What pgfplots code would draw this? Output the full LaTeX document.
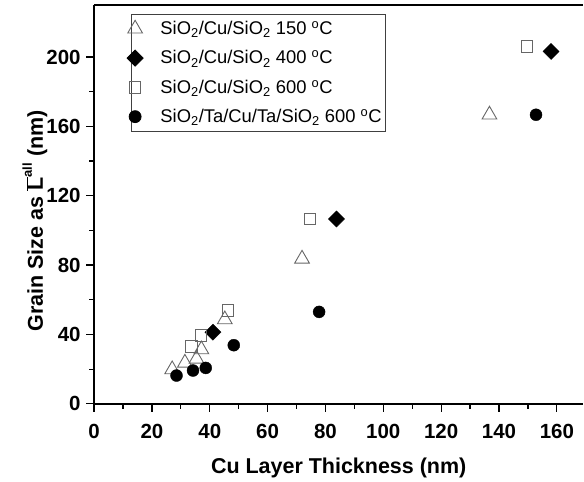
\documentclass[border=0pt]{standalone}
\usepackage{fontspec}
\setmainfont{Liberation Sans}
\usepackage{pgfplots}
\pgfplotsset{compat=1.18}
\begin{document}
\begin{tikzpicture}
\begin{axis}[
  scale only axis,
  width=489.8pt, height=399.3pt,
  xmin=0, xmax=169.15, ymin=0, ymax=230,
  axis x line*=bottom, axis y line*=left,
  axis line style={line width=1.4pt, -},
  xtick={0,20,...,160}, ytick={0,40,...,200},
  minor x tick num=1, minor y tick num=1,
  tick align=outside,
  major tick length=8pt, minor tick length=5pt,
  every tick/.style={black, line width=1.2pt},
  /pgf/number format/assume math mode=true,
  ticklabel style={font=\bfseries\fontsize{20.5}{24}\selectfont},
  xticklabel style={yshift=-9pt},
  yticklabel style={xshift=-2pt},
  xlabel={Cu Layer Thickness (nm)},
  ylabel={Grain Size as $\overline{\hbox{L}}^{\hbox{\fontsize{13}{15}\selectfont all}}$ (nm)},
  label style={font=\bfseries\fontsize{21.5}{25}\selectfont},
  xlabel style={at={(0.5,0)}, anchor=base, yshift=-70pt},
  ylabel style={at={(-0.121,0.459)}, anchor=center},
  legend style={at={(0.0751,0.9775)}, anchor=north west,
    draw=black!75, line width=0.8pt, font=\fontsize{18.4}{22}\selectfont,
    row sep=10.5pt, inner xsep=1.5pt, inner ysep=5pt},
  legend image code/.code={\path (-2pt,0) (23pt,0); \draw[overlay,#1] plot coordinates {(0pt,0pt)};},
  legend cell align=left,
  clip=false,
]
\addplot[only marks, mark=triangle, mark size=8.5pt, mark options={draw=black!60, line width=0.9pt, fill=white}]
  coordinates {(27,19.8) (31.4,23.6) (35.4,25.9) (37.1,31.3) (45.2,48.6) (71.9,83.6) (136.7,166.7)};
\addlegendentry{SiO\textsubscript{2}/Cu/SiO\textsubscript{2} 150 \textsuperscript{o}C}
\addplot[only marks, mark=square*, mark size=5.7pt, mark options={rotate=45, draw=black, fill=black}]
  coordinates {(41.1,41.3) (83.8,106.6) (158,203.2)};
\addlegendentry{SiO\textsubscript{2}/Cu/SiO\textsubscript{2} 400 \textsuperscript{o}C}
\addplot[only marks, mark=square, mark size=5.8pt, mark options={draw=black!60, line width=0.9pt, fill=white}]
  coordinates {(33.7,33.2) (36.9,39.4) (46.3,53.9) (74.6,106.6) (149.6,206)};
\addlegendentry{SiO\textsubscript{2}/Cu/SiO\textsubscript{2} 600 \textsuperscript{o}C}
\addplot[only marks, mark=*, mark size=6pt, mark options={draw=black, fill=black}]
  coordinates {(28.5,16.3) (34.2,19.2) (38.6,20.7) (48.3,33.8) (77.8,53) (152.8,166.7)};
\addlegendentry{SiO\textsubscript{2}/Ta/Cu/Ta/SiO\textsubscript{2} 600 \textsuperscript{o}C}
\draw[line width=1.4pt] (rel axis cs:0,1) -- (rel axis cs:1,1);
\end{axis}
\path (current axis.origin) ++(-94.2pt,-77.7pt) rectangle ++(584pt,482pt);
\end{tikzpicture}
\end{document}
